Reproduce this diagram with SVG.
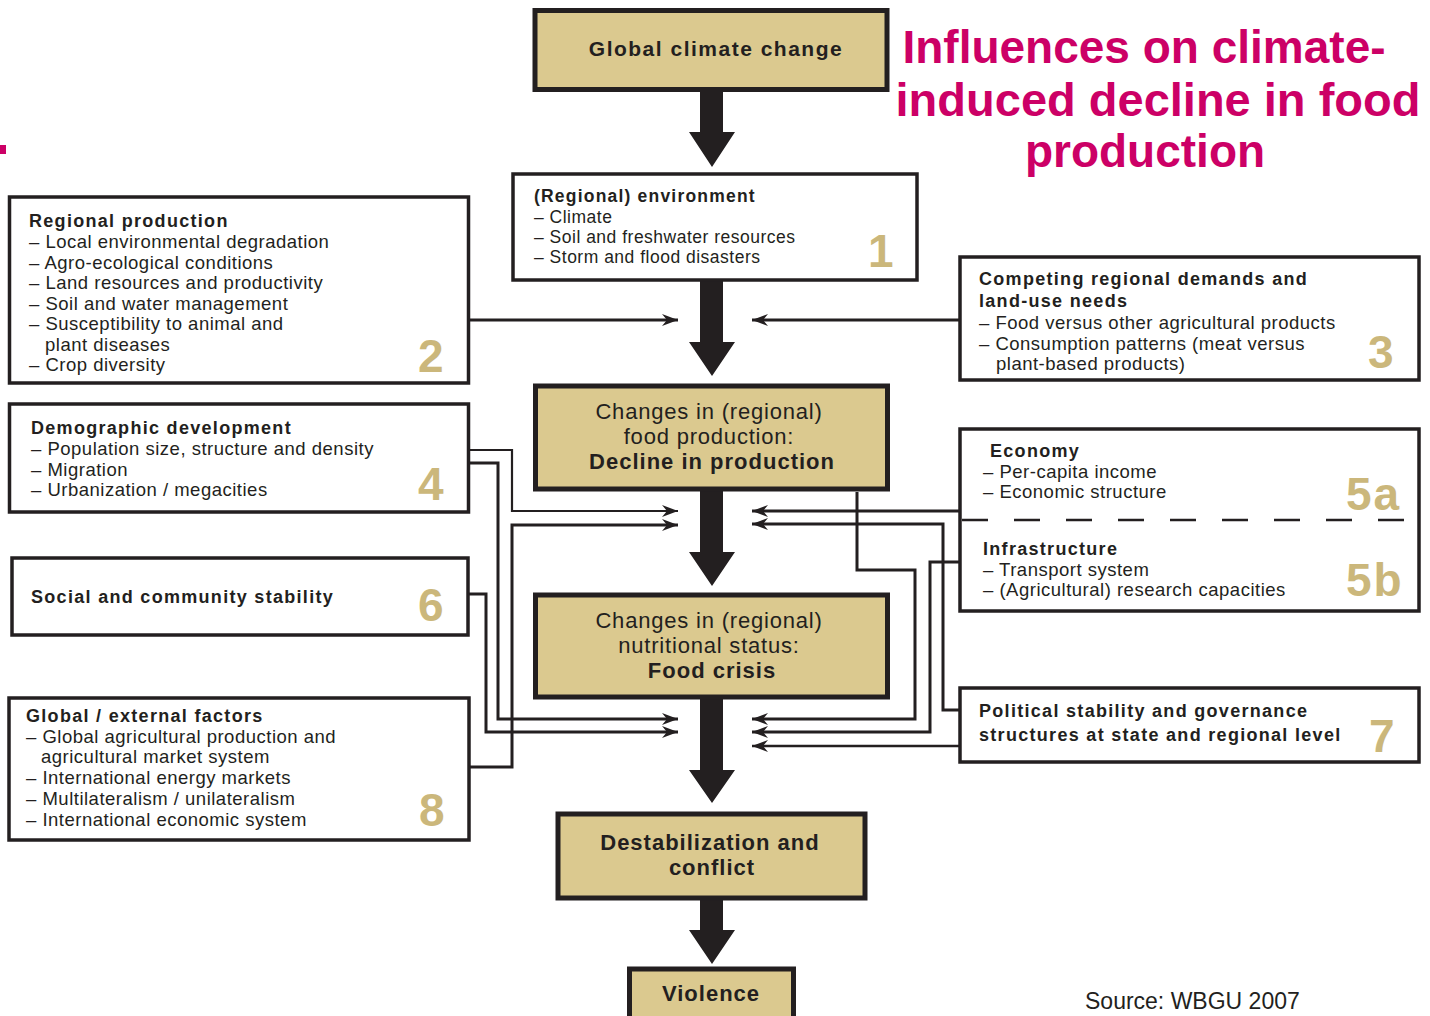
<svg xmlns="http://www.w3.org/2000/svg" width="1430" height="1016" viewBox="0 0 1430 1016">
<style>
text{font-family:"Liberation Sans",Arial,sans-serif;fill:#231f20}
.box{fill:#fff;stroke:#231f20;stroke-width:3.5}
.cbox{fill:#dbc98f;stroke:#231f20;stroke-width:5}
.b{font-weight:bold;font-size:18px;letter-spacing:1.3px}
.r{font-size:18.5px;letter-spacing:0.5px}
.b1{font-weight:bold;font-size:17.5px;letter-spacing:1.2px}
.r1{font-size:17.5px;letter-spacing:0.5px}
.cr{font-size:22px;letter-spacing:0.8px;text-anchor:middle}
.cb{font-weight:bold;font-size:22px;letter-spacing:1px;text-anchor:middle}
.num{font-weight:bold;font-size:46px;fill:#cbb77b}
.title{font-weight:bold;font-size:46px;fill:#cc0066;text-anchor:middle}
.big{fill:#231f20}
.con{fill:none;stroke:#231f20;stroke-width:3}
</style>
<defs>
<marker id="ah" markerUnits="userSpaceOnUse" markerWidth="17" markerHeight="14" refX="16" refY="7" orient="auto">
<path d="M0,1 L16,7 L0,13 L5,7 Z" fill="#231f20"/>
</marker>
</defs>

<rect x="0" y="145" width="6" height="9" fill="#cc0066"/>

<g id="title">
<text class="title" x="1144" y="63">Influences on climate-</text>
<text class="title" x="1158" y="116" style="font-size:47px">induced decline in food</text>
<text class="title" x="1145" y="167">production</text>
</g>

<g id="arrows-main">
<polygon class="big" points="700,90 723,90 723,132 735,132 712,167 689,132 700,132"/>
<polygon class="big" points="700,280 723,280 723,342 735,342 712,376 689,342 700,342"/>
<polygon class="big" points="700,490 723,490 723,552 735,552 712,586 689,552 700,552"/>
<polygon class="big" points="700,697 723,697 723,770 735,770 712,803 689,770 700,770"/>
<polygon class="big" points="700,897 723,897 723,930 735,930 712,964 689,930 700,930"/>
</g>

<g id="connectors">
<polyline class="con" points="469,320 678,320" marker-end="url(#ah)"/>
<polyline class="con" style="stroke-width:2.2" points="469,450 512,450 512,511 678,511" marker-end="url(#ah)"/>
<polyline class="con" points="469,463 498,463 498,719 678,719" marker-end="url(#ah)"/>
<polyline class="con" points="469,594 486,594 486,732 678,732" marker-end="url(#ah)"/>
<polyline class="con" points="469,767 512,767 512,525 678,525" marker-end="url(#ah)"/>
<polyline class="con" points="960,320 752,320" marker-end="url(#ah)"/>
<polyline class="con" points="960,511 752,511" marker-end="url(#ah)"/>
<polyline class="con" points="960,710 943,710 943,524 752,524" marker-end="url(#ah)"/>
<polyline class="con" points="857,492 857,570 915,570 915,719 752,719" marker-end="url(#ah)"/>
<polyline class="con" points="960,562 930,562 930,732 752,732" marker-end="url(#ah)"/>
<polyline class="con" style="stroke-width:2.5" points="960,746 752,746" marker-end="url(#ah)"/>
</g>

<g id="global-climate-change">
<rect class="cbox" x="535" y="10.5" width="352" height="79"/>
<text class="cb" x="716" y="56" style="font-size:21px;letter-spacing:1.5px">Global climate change</text>
</g>

<g id="n1-environment">
<rect class="box" x="513" y="174" width="404" height="106"/>
<text class="b1" x="534" y="202">(Regional) environment</text>
<text class="r1" x="534" y="223">– Climate</text>
<text class="r1" x="534" y="243">– Soil and freshwater resources</text>
<text class="r1" x="534" y="263">– Storm and flood disasters</text>
<text class="num" x="868" y="267">1</text>
</g>

<g id="n2-regional-production">
<rect class="box" x="9.5" y="197" width="459" height="186"/>
<text class="b" x="29" y="227">Regional production</text>
<text class="r" x="29" y="248">– Local environmental degradation</text>
<text class="r" x="29" y="269">– Agro-ecological conditions</text>
<text class="r" x="29" y="289">– Land resources and productivity</text>
<text class="r" x="29" y="310">– Soil and water management</text>
<text class="r" x="29" y="330">– Susceptibility to animal and</text>
<text class="r" x="45" y="351">plant diseases</text>
<text class="r" x="29" y="371">– Crop diversity</text>
<text class="num" x="418" y="372">2</text>
</g>

<g id="n3-competing-demands">
<rect class="box" x="960" y="257" width="459" height="123"/>
<text class="b" x="979" y="285">Competing regional demands and</text>
<text class="b" x="979" y="307">land-use needs</text>
<text class="r" x="979" y="329">– Food versus other agricultural products</text>
<text class="r" x="979" y="350">– Consumption patterns (meat versus</text>
<text class="r" x="996" y="370">plant-based products)</text>
<text class="num" x="1368" y="368">3</text>
</g>

<g id="decline-in-production">
<rect class="cbox" x="535.5" y="386" width="352" height="103"/>
<text class="cr" x="709" y="419">Changes in (regional)</text>
<text class="cr" x="709" y="444">food production:</text>
<text class="cb" x="712" y="469">Decline in production</text>
</g>

<g id="n4-demographic">
<rect class="box" x="9.5" y="404" width="459" height="108"/>
<text class="b" x="31" y="434">Demographic development</text>
<text class="r" x="31" y="455">– Population size, structure and density</text>
<text class="r" x="31" y="476">– Migration</text>
<text class="r" x="31" y="496">– Urbanization / megacities</text>
<text class="num" x="418" y="500">4</text>
</g>

<g id="n5-economy-infrastructure">
<rect class="box" x="960" y="429" width="459" height="182"/>
<line x1="962" y1="520" x2="1406" y2="520" stroke="#231f20" stroke-width="2.5" stroke-dasharray="26,26"/>
<text class="b" x="990" y="457">Economy</text>
<text class="r" x="983" y="478">– Per-capita income</text>
<text class="r" x="983" y="498">– Economic structure</text>
<text class="num" x="1346" y="510" style="letter-spacing:2px">5a</text>
<text class="b" x="983" y="555">Infrastructure</text>
<text class="r" x="983" y="576">– Transport system</text>
<text class="r" x="983" y="596">– (Agricultural) research capacities</text>
<text class="num" x="1346" y="596" style="letter-spacing:2px">5b</text>
</g>

<g id="n6-social-stability">
<rect class="box" x="12" y="558" width="456" height="77"/>
<text class="b" x="31" y="603">Social and community stability</text>
<text class="num" x="418" y="621">6</text>
</g>

<g id="food-crisis">
<rect class="cbox" x="535.5" y="595" width="352" height="102"/>
<text class="cr" x="709" y="628">Changes in (regional)</text>
<text class="cr" x="709" y="653">nutritional status:</text>
<text class="cb" x="712" y="678">Food crisis</text>
</g>

<g id="n7-political-stability">
<rect class="box" x="960" y="688" width="459" height="74"/>
<text class="b" x="979" y="717">Political stability and governance</text>
<text class="b" x="979" y="741">structures at state and regional level</text>
<text class="num" x="1369" y="752">7</text>
</g>

<g id="n8-global-factors">
<rect class="box" x="9" y="698" width="460" height="142"/>
<text class="b" x="26" y="722">Global / external factors</text>
<text class="r" x="26" y="743">– Global agricultural production and</text>
<text class="r" x="41" y="763">agricultural market system</text>
<text class="r" x="26" y="784">– International energy markets</text>
<text class="r" x="26" y="805">– Multilateralism / unilateralism</text>
<text class="r" x="26" y="826">– International economic system</text>
<text class="num" x="419" y="826">8</text>
</g>

<g id="destabilization">
<rect class="cbox" x="558" y="814" width="307" height="84"/>
<text class="cb" x="710" y="850">Destabilization and</text>
<text class="cb" x="712" y="875">conflict</text>
</g>

<g id="violence">
<rect class="cbox" x="629.5" y="969" width="164" height="60"/>
<text class="cb" x="711" y="1001">Violence</text>
</g>

<text x="1085" y="1009" style="font-size:23px">Source: WBGU 2007</text>
</svg>
